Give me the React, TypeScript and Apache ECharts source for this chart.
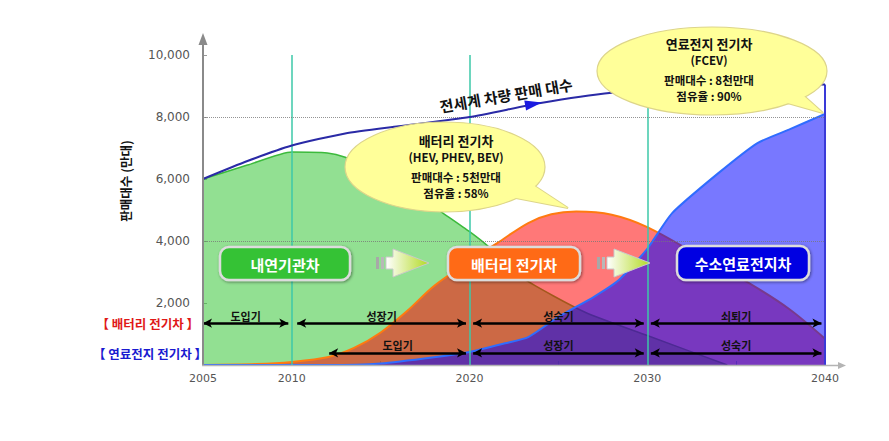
import React, { useEffect, useRef } from "react";
import * as echarts from "echarts";

const KR = "'Noto Sans CJK KR', 'Noto Sans', sans-serif";
const NUM = "'DejaVu Sans', sans-serif";

// axis & guides
const xLabelYears = [2005, 2010, 2020, 2030, 2040];
const dividerYears = [2010, 2020, 2030];
const guideLevels = [4000, 8000];

// 내연기관차 (ICE)
const iceYears = [2005, 2007.5, 2010, 2012, 2013, 2015, 2017, 2018.5, 2020, 2021, 2023, 2026.5, 2030, 2034.5];
const iceValues = [6000, 6450, 6870, 6840, 6700, 6200, 5500, 4900, 4300, 3850, 2800, 1700, 950, 0];

// 배터리 전기차
const bevYears = [2005, 2008, 2010, 2012, 2013.5, 2015, 2016.5, 2018, 2020, 2021.6, 2023.3, 2024.6, 2026, 2028, 2030, 2033, 2035.7, 2038, 2040];
const bevValues = [0, 30, 100, 250, 550, 1050, 1750, 2550, 3350, 3950, 4580, 4860, 4950, 4850, 4450, 3500, 2650, 1800, 850];

// 연료전지 전기차
const fcevYears = [2005, 2012, 2015, 2018, 2020, 2022, 2023.3, 2025, 2027, 2028.4, 2030, 2031.4, 2034, 2036.2, 2038, 2040];
const fcevValues = [0, 0, 50, 250, 420, 700, 900, 1550, 2200, 2740, 3750, 4900, 6190, 7160, 7600, 8100];

// 전세계 차량 판매 대수
const totalYears = [2005, 2007.5, 2010, 2013, 2016, 2020, 2024, 2028, 2032, 2036, 2040];
const totalValues = [6000, 6580, 7080, 7470, 7700, 8000, 8450, 8780, 8920, 9000, 9050];
const totalArrowAt = [2023.6, 8420];

// life-cycle phases
const bevPhaseNames = ["도입기", "성장기", "성숙기", "쇠퇴기"];
const bevPhaseFrom = [2005, 2010.3, 2020.2, 2030.2];
const bevPhaseTo = [2009.8, 2019.8, 2029.8, 2039.8];
const bevPhaseLevel = 1350;
const fcevPhaseNames = ["도입기", "성장기", "성숙기"];
const fcevPhaseFrom = [2012.1, 2020.2, 2030.2];
const fcevPhaseTo = [2019.8, 2029.8, 2039.8];
const fcevPhaseLevel = 390;

// texts
const yTitle = "판매대수 (만대)";
const rowLabels = ["【 배터리 전기차 】", "【 연료전지 전기차 】"];
const totalLabel = "전세계 차량 판매 대수";
const bevBubble = ["배터리 전기차", "(HEV, PHEV, BEV)", "판매대수 : 5천만대", "점유율 : 58%"];
const fcevBubble = ["연료전지 전기차", "(FCEV)", "판매대수 : 8천만대", "점유율 : 90%"];
const stageBoxes = ["내연기관차", "배터리 전기차", "수소연료전지차"];

const zip = (xs: number[], ys: number[]) => xs.map((x, i) => [x, ys[i]]);

function txt(text: string, x: number, y: number, extra: any = {}, rot = 0) {
  return {
    type: "text",
    x,
    y,
    rotation: rot,
    z: 110,
    style: {
      text,
      fill: "#111",
      fontSize: 12,
      fontWeight: "bold",
      fontFamily: KR,
      align: "center",
      verticalAlign: "middle",
      textAlign: "center",
      textVerticalAlign: "middle",
      ...extra,
    },
  };
}

function bubble(cx: number, cy: number, rx: number, ry: number, tail: number[][], lines: string[], tx: number, ys: number[]) {
  const fill = "#ffff99";
  const stroke = "#ddd58a";
  return [
    { type: "polygon", z: 100, shape: { points: tail }, style: { fill, stroke, lineWidth: 2 } },
    { type: "ellipse", z: 101, shape: { cx, cy, rx, ry }, style: { fill, stroke, lineWidth: 1.2 } },
    { type: "polygon", z: 102, shape: { points: tail }, style: { fill } },
    ...lines.map((t, i) => txt(t, tx, ys[i], { fontSize: i === 0 ? 13 : 11.5 })),
  ];
}

function stageBox(x: number, y: number, w: number, h: number, color: string, label: string) {
  return [
    {
      type: "rect",
      z: 100,
      shape: { x, y, width: w, height: h, r: 9 },
      style: {
        fill: color,
        stroke: "#dcdcdc",
        lineWidth: 2.5,
        shadowBlur: 3,
        shadowOffsetX: 1,
        shadowOffsetY: 1,
        shadowColor: "rgba(0,0,0,0.45)",
      },
    },
    txt(label, x + w / 2, y + h / 2 + 0.5, { fill: "#ffffff", fontSize: 15 }),
  ];
}

function blockArrow(x0: number, cy: number) {
  const grad = new echarts.graphic.LinearGradient(0, 0, 1, 0, [
    { offset: 0, color: "#ffffff" },
    { offset: 1, color: "#b2da22" },
  ]);
  const xb = x0 + 17;
  const tip = x0 + 53;
  return [
    { type: "rect", z: 100, shape: { x: x0, y: cy - 6, width: 3, height: 12 }, style: { fill: "#a8a8a8" } },
    { type: "rect", z: 100, shape: { x: x0 + 5, y: cy - 6, width: 3, height: 12 }, style: { fill: "#b8b8b8" } },
    {
      type: "polygon",
      z: 100,
      shape: {
        points: [
          [x0 + 10, cy - 6],
          [xb, cy - 6],
          [xb, cy - 14],
          [tip, cy],
          [xb, cy + 14],
          [xb, cy + 6],
          [x0 + 10, cy + 6],
        ],
      },
      style: { fill: grad, stroke: "#c9c9c9", lineWidth: 1 },
    },
  ];
}

function phaseLines(names: string[], from: number[], to: number[], level: number) {
  return names.map((n, i) => [
    { coord: [from[i], level], name: n },
    { coord: [to[i], level] },
  ]);
}

export default function App() {
  const ref = useRef<HTMLDivElement>(null);

  useEffect(() => {
    if (!ref.current) return;
    const chart = echarts.init(ref.current, null, { renderer: "svg" });

    const graphics: any[] = [
      // axes
      { type: "line", z: 105, shape: { x1: 203, y1: 366, x2: 203, y2: 42 }, style: { stroke: "#8a8a8a", lineWidth: 2 } },
      { type: "polygon", z: 105, shape: { points: [[203, 33], [198.5, 45], [207.5, 45]] }, style: { fill: "#8a8a8a" } },
      { type: "line", z: 105, shape: { x1: 202, y1: 365.5, x2: 840, y2: 365.5 }, style: { stroke: "#b4b4b4", lineWidth: 1.5 } },
      { type: "polygon", z: 105, shape: { points: [[846, 365.5], [838, 362], [838, 369]] }, style: { fill: "#b4b4b4" } },
      // y title
      txt(yTitle, 125, 181, { fontSize: 12.5 }, Math.PI / 2),
      // row labels
      txt(rowLabels[0], 199, 323, { fill: "#e01818", fontSize: 12.5, align: "right", textAlign: "right" }),
      txt(rowLabels[1], 207, 353, { fill: "#1a1ad0", fontSize: 12.5, align: "right", textAlign: "right" }),
      // total label
      txt(totalLabel, 506, 95, { fontSize: 15 }, 0.17),
      // bubbles
      ...bubble(445, 167, 100, 45, [[500, 195], [530, 183], [568, 208]], bevBubble, 456, [140, 157, 177, 193]),
      ...bubble(712, 71, 115, 44, [[770, 98], [795, 88], [823, 113]], fcevBubble, 709, [43, 60, 80, 96]),
      // stage boxes
      ...stageBox(220, 247, 130, 33, "#36c236", stageBoxes[0]),
      ...stageBox(448, 247, 132, 33, "#ff6a12", stageBoxes[1]),
      ...stageBox(677, 246, 132, 34, "#0606e2", stageBoxes[2]),
      ...blockArrow(376, 263),
      ...blockArrow(597, 263),
    ];

    const option: any = {
      animation: false,
      backgroundColor: "#ffffff",
      grid: { left: 203, right: 64, top: 55, bottom: 76 },
      xAxis: {
        type: "value",
        min: 2005,
        max: 2040,
        interval: 5,
        axisLine: { show: false },
        axisTick: { show: true, inside: true, length: 4, lineStyle: { color: "#6cc8e0" } },
        splitLine: { show: false },
        axisLabel: {
          margin: 8,
          color: "#555",
          fontSize: 11,
          fontFamily: NUM,
          formatter: (v: number) => (xLabelYears.indexOf(v) >= 0 ? String(v) : ""),
        },
      },
      yAxis: {
        type: "value",
        min: 0,
        max: 10000,
        interval: 2000,
        axisLine: { show: false },
        axisTick: { show: true, inside: true, length: 4, lineStyle: { color: "#999" } },
        splitLine: { show: false },
        axisLabel: {
          margin: 13,
          color: "#555",
          fontSize: 12,
          fontFamily: NUM,
          formatter: (v: number) => (v === 0 ? "" : v.toLocaleString("en-US")),
        },
      },
      series: [
        {
          name: "내연기관차",
          type: "line",
          data: zip(iceYears, iceValues),
          symbol: "none",
          smooth: 0.2,
          lineStyle: { color: "#3cba3c", width: 1.5 },
          areaStyle: { color: "rgba(60,200,60,0.56)", opacity: 1 },
          z: 2,
          markLine: {
            silent: true,
            symbol: "none",
            label: { show: false },
            lineStyle: { color: "#3cc8a8", width: 1.5, type: "solid" },
            data: dividerYears.map((y) => ({ xAxis: y })),
          },
        },
        {
          name: "배터리 전기차",
          type: "line",
          data: zip(bevYears, bevValues),
          symbol: "none",
          smooth: 0.3,
          lineStyle: { color: "#ff7a10", width: 2 },
          areaStyle: { color: "rgba(255,0,0,0.53)", opacity: 1 },
          z: 3,
        },
        {
          name: "연료전지 전기차",
          type: "line",
          data: zip(fcevYears, fcevValues),
          symbol: "none",
          smooth: 0.2,
          lineStyle: { color: "#2f6cff", width: 2 },
          areaStyle: { color: "rgba(0,0,255,0.53)", opacity: 1 },
          z: 4,
          markLine: {
            silent: true,
            symbol: "none",
            label: { show: false },
            lineStyle: { color: "#3a3ad8", width: 2, type: "solid" },
            data: [[{ coord: [2040, 0] }, { coord: [2040, totalValues[totalValues.length - 1]] }]],
          },
        },
        {
          name: "전세계 차량 판매 대수",
          type: "line",
          data: zip(totalYears, totalValues),
          symbol: "none",
          smooth: 0.2,
          lineStyle: { color: "#2a2aa6", width: 2 },
          z: 5,
          markLine: {
            silent: true,
            symbol: "none",
            label: { show: false },
            lineStyle: { color: "rgba(120,120,120,0.8)", width: 1, type: "dotted" },
            data: guideLevels.map((v) => ({ yAxis: v })),
          },
        },
        {
          name: "arrowHead",
          type: "scatter",
          data: [totalArrowAt],
          symbol: "triangle",
          symbolSize: [10, 17],
          symbolRotate: -80,
          itemStyle: { color: "#1a1ae0", opacity: 1 },
          silent: true,
          z: 7,
        },
        {
          name: "phases",
          type: "line",
          data: [],
          z: 6,
          markLine: {
            silent: true,
            symbol: ["arrow", "arrow"],
            symbolSize: [7, 9],
            lineStyle: { color: "#000", width: 2.5, type: "solid" },
            label: {
              show: true,
              position: "insideMiddleTop",
              distance: 2,
              formatter: "{b}",
              color: "#111",
              fontSize: 11,
              fontWeight: "bold",
              fontFamily: KR,
            },
            data: [
              ...phaseLines(bevPhaseNames, bevPhaseFrom, bevPhaseTo, bevPhaseLevel),
              ...phaseLines(fcevPhaseNames, fcevPhaseFrom, fcevPhaseTo, fcevPhaseLevel),
            ],
          },
        },
      ],
      graphic: graphics,
    };

    chart.setOption(option);
    return () => chart.dispose();
  }, []);

  return (
    <div
      ref={ref}
      style={{ position: "fixed", left: 0, top: 0, width: 889, height: 441, background: "#fff" }}
    />
  );
}
